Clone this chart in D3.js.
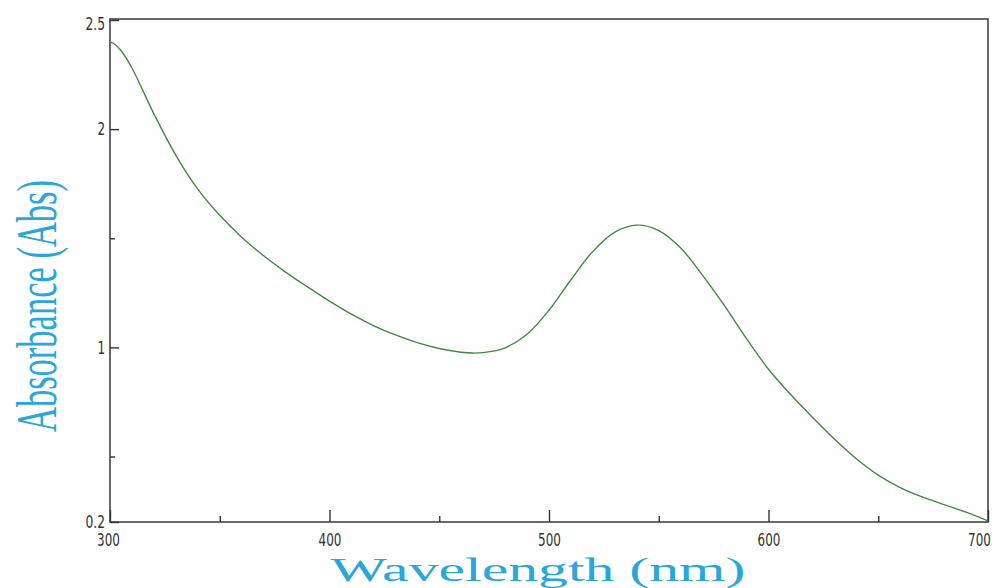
<!DOCTYPE html>
<html>
<head>
<meta charset="utf-8">
<script src="https://cdn.jsdelivr.net/npm/d3@7"></script>
<style>
  body { margin: 0; background: #fff; }
  .tick text { font-family: "Liberation Sans Narrow", "DejaVu Sans Condensed", sans-serif; font-size: 18px; fill: #333; }
</style>
</head>
<body>
<svg width="1000" height="588"></svg>
<script>
var wavelengths = [300, 302, 305, 310, 320, 330, 340, 350, 360, 370, 380, 390, 400, 410, 420, 430, 440, 450, 460, 465, 470, 480, 490, 500, 510, 520, 530, 540, 550, 560, 570, 580, 590, 600, 610, 620, 630, 640, 650, 660, 670, 680, 690, 700];
var absorbance = [2.40, 2.39, 2.36, 2.28, 2.07, 1.88, 1.725, 1.605, 1.505, 1.42, 1.345, 1.277, 1.212, 1.152, 1.10, 1.057, 1.022, 0.995, 0.978, 0.974, 0.976, 0.998, 1.06, 1.17, 1.31, 1.44, 1.528, 1.56, 1.535, 1.455, 1.33, 1.19, 1.04, 0.90, 0.785, 0.68, 0.58, 0.49, 0.415, 0.358, 0.315, 0.28, 0.245, 0.205];

var xMajor = [300, 400, 500, 600, 700];
var xMinor = [350, 450, 550, 650];
var yMajor = [0.2, 1, 2, 2.5];
var yMinor = [0.5, 1.5];

var data = wavelengths.map(function(w, i) { return {w: w, a: absorbance[i]}; });

var svg = d3.select("svg"),
    margin = {top: 20, right: 12, bottom: 66, left: 110},
    width = +svg.attr("width"),
    height = +svg.attr("height");

var x = d3.scaleLinear()
    .domain([300, 700])
    .range([margin.left, width - margin.right]);

var y = d3.scaleLinear()
    .domain([0.2, 2.5])
    .range([height - margin.bottom, margin.top]);

// narrow digits like the original's condensed font
function squeeze(sel) {
  sel.each(function(d) {
    var s = d3.select(this).text();
    var w = s.replace(/[^0-9]/g, "").length * 7.6 + s.replace(/[0-9]/g, "").length * 4.4;
    d3.select(this).attr("textLength", w).attr("lengthAdjust", "spacingAndGlyphs");
  });
}

// frame
svg.append("rect")
    .attr("x", x(300))
    .attr("y", y(2.5) - 1)
    .attr("width", x(700) - x(300))
    .attr("height", y(0.2) - y(2.5) + 1)
    .attr("fill", "none")
    .attr("stroke", "#444")
    .attr("stroke-width", 1.6);

// x axis
var gx = svg.append("g")
    .attr("transform", "translate(0," + y(0.2) + ")")
    .call(d3.axisBottom(x).tickValues(xMajor).tickSize(-12).tickPadding(11).tickFormat(d3.format("d")));
gx.append("g")
    .call(d3.axisBottom(x).tickValues(xMinor).tickSize(-6).tickFormat(""));
gx.selectAll(".tick text").filter(function(d) { return d === 700; }).attr("dx", "-9");
gx.selectAll(".tick text").filter(function(d) { return d === 300; }).attr("dx", "-2");

// y axis
var gy = svg.append("g")
    .attr("transform", "translate(" + x(300) + ",0)")
    .call(d3.axisLeft(y).tickValues(yMajor).tickSize(-9).tickPadding(5).tickFormat(function(d) { return d; }));
gy.append("g")
    .call(d3.axisLeft(y).tickValues(yMinor).tickSize(-5).tickFormat(""));
gy.selectAll(".tick text").filter(function(d) { return d === 0.2; }).attr("dy", "0.3em");
gy.selectAll(".tick text").filter(function(d) { return d === 2.5; }).attr("dy", "0.5em");

svg.selectAll(".tick text").call(squeeze);
svg.selectAll(".domain").remove();
svg.selectAll(".tick line").attr("stroke", "#333").attr("stroke-width", 1.4);

// spectrum line
var line = d3.line()
    .x(function(d) { return x(d.w); })
    .y(function(d) { return y(d.a); })
    .curve(d3.curveCatmullRom.alpha(0.5));

svg.append("path")
    .datum(data)
    .attr("fill", "none")
    .attr("stroke", "#3c8c3c")
    .attr("stroke-width", 1.4)
    .attr("d", line);

// axis titles
svg.append("text")
    .attr("x", 538)
    .attr("y", 581)
    .attr("text-anchor", "middle")
    .attr("textLength", 415)
    .attr("lengthAdjust", "spacingAndGlyphs")
    .style("font-family", "'Liberation Serif', 'DejaVu Serif', serif")
    .style("font-size", "34px")
    .style("fill", "#2aa6d8")
    .text("Wavelength (nm)");

svg.append("text")
    .attr("transform", "translate(56,306) rotate(-90)")
    .attr("text-anchor", "middle")
    .attr("textLength", 252)
    .attr("lengthAdjust", "spacingAndGlyphs")
    .style("font-family", "'Liberation Serif', 'DejaVu Serif', serif")
    .style("font-size", "56px")
    .style("fill", "#2aa6d8")
    .text("Absorbance (Abs)");
</script>
</body>
</html>
